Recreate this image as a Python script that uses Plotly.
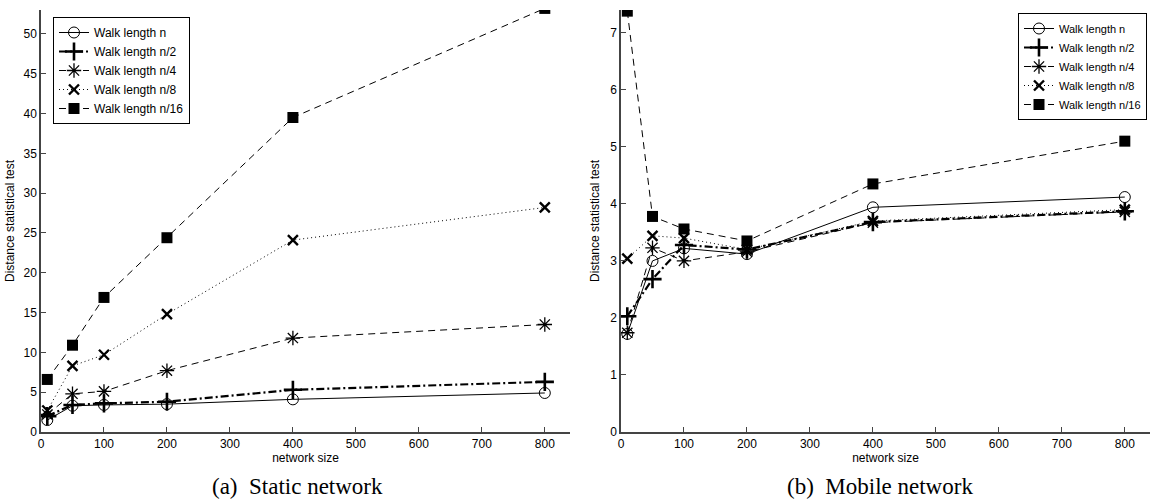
import plotly.graph_objects as go

network_size = [10, 50, 100, 200, 400, 800]
series_names = ["Walk length n", "Walk length n/2", "Walk length n/4", "Walk length n/8", "Walk length n/16"]

static_n = [1.5, 3.3, 3.4, 3.5, 4.1, 4.9]
static_n2 = [2.0, 3.4, 3.6, 3.8, 5.3, 6.3]
static_n4 = [2.2, 4.8, 5.1, 7.7, 11.8, 13.5]
static_n8 = [2.7, 8.3, 9.7, 14.8, 24.1, 28.2]
static_n16 = [6.6, 10.9, 16.9, 24.4, 39.5, 53.2]

mobile_n = [1.72, 3.0, 3.22, 3.12, 3.94, 4.12]
mobile_n2 = [2.03, 2.68, 3.28, 3.2, 3.68, 3.87]
mobile_n4 = [1.74, 3.23, 3.0, 3.16, 3.67, 3.86]
mobile_n8 = [3.04, 3.44, 3.4, 3.2, 3.7, 3.9]
mobile_n16 = [7.38, 3.78, 3.56, 3.35, 4.35, 5.1]

static_tick_vals = [0, 5, 10, 15, 20, 25, 30, 35, 40, 45, 50]
mobile_tick_vals = [0, 1, 2, 3, 4, 5, 6, 7]
x_tick_vals = [0, 100, 200, 300, 400, 500, 600, 700, 800]

styles = [
    dict(line=dict(color="black", width=1, dash="solid"),
         marker=dict(symbol="circle-open", size=11, color="black", line=dict(width=1, color="black"))),
    dict(line=dict(color="black", width=2.2, dash="8px,3px,2px,3px"),
         marker=dict(symbol="cross-thin-open", size=13, color="black", line=dict(width=2.6, color="black"))),
    dict(line=dict(color="black", width=1, dash="7px,5px"),
         marker=dict(symbol="asterisk-open", size=12, color="black", line=dict(width=1.3, color="black"))),
    dict(line=dict(color="black", width=1, dash="1px,3px"),
         marker=dict(symbol="x-thin-open", size=10, color="black", line=dict(width=2.4, color="black"))),
    dict(line=dict(color="black", width=1, dash="7px,5px"),
         marker=dict(symbol="square", size=11, color="black", line=dict(width=0, color="black"))),
]

static_data = [static_n, static_n2, static_n4, static_n8, static_n16]
mobile_data = [mobile_n, mobile_n2, mobile_n4, mobile_n8, mobile_n16]

fig = go.Figure()
for name, ys, st in zip(series_names, static_data, styles):
    fig.add_trace(go.Scatter(x=network_size, y=ys, name=name, mode="lines+markers",
                             line=st["line"], marker=st["marker"],
                             xaxis="x", yaxis="y", legend="legend"))
for name, ys, st in zip(series_names, mobile_data, styles):
    fig.add_trace(go.Scatter(x=network_size, y=ys, name=name, mode="lines+markers",
                             line=st["line"], marker=st["marker"],
                             xaxis="x2", yaxis="y2", legend="legend2"))

sans = "Liberation Sans, Arial, sans-serif"
tickfont = dict(family=sans, size=12, color="black")
titlefont = dict(family=sans, size=12, color="black")
axis_common = dict(showline=True, linecolor="#444444", linewidth=1.5, ticks="inside",
                   ticklen=5, tickcolor="#444444", showgrid=False, zeroline=False,
                   tickfont=tickfont, automargin=False)

y_bottom = 1 - 432 / 499
y_top = 1 - 10 / 499

fig.update_layout(
    width=1150, height=499,
    margin=dict(l=0, r=0, t=0, b=0),
    paper_bgcolor="white", plot_bgcolor="white",
    showlegend=True,
    xaxis=dict(domain=[41 / 1150, 570 / 1150], range=[0, 840], tickvals=x_tick_vals,
               title=dict(text="network size", font=titlefont, standoff=1), anchor="y", **axis_common),
    yaxis=dict(domain=[y_bottom, y_top], range=[0, 53], tickvals=static_tick_vals,
               title=dict(text="Distance statistical test", font=titlefont, standoff=6), anchor="x", **axis_common),
    xaxis2=dict(domain=[621 / 1150, 1.0], range=[0, 840], tickvals=x_tick_vals,
                title=dict(text="network size", font=titlefont, standoff=1), anchor="y2", **axis_common),
    yaxis2=dict(domain=[y_bottom, y_top], range=[0, 7.4], tickvals=mobile_tick_vals,
                title=dict(text="Distance statistical test", font=titlefont, standoff=8), anchor="x2", **axis_common),
    legend=dict(x=53 / 1150, y=1 - 17 / 499, xanchor="left", yanchor="top",
                bordercolor="black", borderwidth=1, bgcolor="white", itemwidth=30,
                font=dict(family=sans, size=12, color="black"),
                tracegroupgap=0),
    legend2=dict(x=1147 / 1150, y=1 - 13 / 499, xanchor="right", yanchor="top",
                 bordercolor="black", borderwidth=1, bgcolor="white", itemwidth=30,
                 font=dict(family=sans, size=11, color="black"),
                 tracegroupgap=0),
    annotations=[
        dict(text="(a)\u2002Static network", x=297 / 1150, y=1 - 486 / 499, xref="paper", yref="paper",
             showarrow=False, xanchor="center", yanchor="middle",
             font=dict(family="Liberation Serif, Times New Roman, serif", size=23, color="black")),
        dict(text="(b)\u2002Mobile network", x=880 / 1150, y=1 - 486 / 499, xref="paper", yref="paper",
             showarrow=False, xanchor="center", yanchor="middle",
             font=dict(family="Liberation Serif, Times New Roman, serif", size=23, color="black")),
    ],
)

fig.write_html("out.html", config={"displayModeBar": False},
               post_script="document.body.style.margin='0px';")
